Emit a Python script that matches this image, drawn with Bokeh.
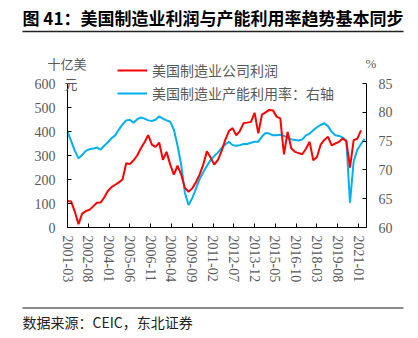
from bokeh.plotting import figure
from bokeh.models import (Range1d, LinearAxis, FixedTicker, Label, Legend,
                          LegendItem)
from bokeh.embed import file_html
from bokeh.resources import INLINE

# ---------------- data (quarterly, starting 2001-03) ----------------
x_tick_labels = ["2001-03", "2002-08", "2004-01", "2005-06", "2006-11", "2008-04",
                 "2009-09", "2011-02", "2012-07", "2013-12", "2015-05", "2016-10",
                 "2018-03", "2019-08", "2021-01"]

# US manufacturing corporate profits, billion USD (left axis)
profits = [110, 108, 66, 14, 58, 68, 74, 88, 103, 104,
           125, 152, 168, 178, 188, 200, 268, 264, 280, 300,
           330, 355, 385, 345, 336, 354, 282, 315, 262, 220,
           258, 220, 165, 149, 163, 188, 220, 262, 318, 292,
           262, 282, 318, 365, 402, 414, 384, 403, 435, 437,
           440, 478, 392, 470, 480, 490, 488, 462, 455, 305,
           398, 330, 315, 310, 305, 328, 357, 280, 294, 345,
           365, 378, 342, 350, 357, 371, 360, 250, 364, 370,
           405]

# US manufacturing capacity utilization, % (right axis)
capacity = [76.6, 75.0, 73.3, 72.0, 72.6, 73.3, 73.6, 73.7, 73.9, 73.5,
            74.2, 74.8, 75.5, 76.0, 77.0, 77.9, 78.6, 78.7, 78.2, 78.8,
            79.1, 78.9, 78.6, 78.5, 78.7, 79.3, 78.9, 78.6, 78.35, 77.0,
            74.2, 70.8, 66.0, 63.9, 65.1, 66.7, 68.4, 69.6, 70.7, 71.7,
            72.4, 73.0, 73.8, 74.4, 74.9, 74.3, 74.2, 74.3, 74.5, 74.5,
            74.7, 74.9, 74.9, 75.8, 76.4, 76.3, 76.0, 76.0, 76.1, 75.9,
            75.6, 75.3, 75.2, 75.1, 75.3, 76.0, 76.3, 76.9, 77.4, 77.8,
            78.1, 77.6, 76.6, 76.0, 75.9, 75.6, 75.1, 64.3, 71.5, 73.5,
            74.5, 75.4]

left_ticks = [0, 100, 200, 300, 400, 500, 600]
right_ticks = [60, 65, 70, 75, 80, 85]

# months since 2001-03
x_profits = [3 * i for i in range(len(profits))]
x_capacity = [3 * i for i in range(len(capacity))]
tick_months = [17 * i for i in range(len(x_tick_labels))]

# ---------------- layout ----------------
W, H = 418, 338
L, R, T, B = 67, 366, 83, 227          # plot area in canvas pixels
X_END = 244.5                           # months shown across the plot area
GRAY = "#595959"
CJK = "Noto Sans CJK SC"
SERIF = "Liberation Serif"

# the frame fills the canvas; axes are pinned at the plot-area edges
pxm = (R - L) / X_END
xr = Range1d(-L / pxm, (W - L) / pxm)
pyl = (B - T) / 600.0
yr_left = Range1d(-(H - B) / pyl, B / pyl)
pyr = (B - T) / 25.0
yr_right = Range1d(60 - (H - B) / pyr, 60 + B / pyr)

def cx(X):  # canvas pixel -> x data
    return (X - L) / pxm

def cy(Y):  # canvas pixel -> left-axis data
    return (B - Y) / pyl

p = figure(width=W, height=H, output_backend="svg", toolbar_location=None,
           x_range=xr, y_range=yr_left,
           min_border_left=0, min_border_right=0, min_border_top=0, min_border_bottom=0)
p.extra_y_ranges = {"cu": yr_right}
p.outline_line_color = None
p.xgrid.visible = False
p.ygrid.visible = False
p.background_fill_color = "white"
p.border_fill_color = "white"

def style_axis(ax):
    ax.axis_line_color = "black"
    ax.axis_line_width = 1
    ax.major_tick_line_color = "black"
    ax.major_tick_in = 4
    ax.major_tick_out = 0
    ax.minor_tick_line_color = None
    ax.major_label_text_font = SERIF
    ax.major_label_text_font_size = "14px"
    ax.major_label_text_color = GRAY

yl = p.yaxis[0]
yl.ticker = FixedTicker(ticks=left_ticks)
style_axis(yl)
yl.fixed_location = 0
yl.bounds = (0, 600)
yl.major_label_standoff = 12

xb = p.xaxis[0]
xb.ticker = FixedTicker(ticks=tick_months)
xb.major_label_overrides = {m: s for m, s in zip(tick_months, x_tick_labels)}
style_axis(xb)
xb.fixed_location = 0
xb.bounds = (0, X_END)
xb.major_label_orientation = "vertical"
xb.major_label_standoff = 8

yr = LinearAxis(y_range_name="cu", ticker=FixedTicker(ticks=right_ticks))
style_axis(yr)
yr.fixed_location = X_END
yr.bounds = (60, 85)
yr.major_label_standoff = 12
p.add_layout(yr, "right")

r_blue = p.line(x_capacity, capacity, color="#00B0F0", line_width=2, y_range_name="cu")
r_red = p.line(x_profits, profits, color="#FF0000", line_width=2)

# legend: location gives its bottom-left corner, measured from the canvas bottom
legend = Legend(items=[LegendItem(label="美国制造业公司利润", renderers=[r_red]),
                       LegendItem(label="美国制造业产能利用率：右轴", renderers=[r_blue])],
                location=(117, H - 103), orientation="vertical",
                padding=0, margin=0, spacing=3,
                glyph_width=30, glyph_height=20, label_height=20, label_standoff=5,
                border_line_color=None, background_fill_alpha=0,
                label_text_font=CJK, label_text_font_size="14px",
                label_text_color=GRAY)
p.add_layout(legend)

def lab(text, X, Y, size, color, font=CJK, style="normal", align="left"):
    p.add_layout(Label(x=X, y=H - Y, x_units="screen", y_units="screen",
                       text=text, text_font=font, text_font_size=size,
                       text_color=color, text_font_style=style,
                       text_align=align, text_baseline="middle"))

# decorative rules under the title and above the source note
p.segment(x0=[cx(22)], y0=[cy(31)], x1=[cx(403)], y1=[cy(31)],
          line_color="#222222", line_width=1.3)
p.segment(x0=[cx(22)], y0=[cy(307.5)], x1=[cx(403)], y1=[cy(307.5)],
          line_color="#8c8c8c", line_width=2)

lab("图 41：美国制造业利润与产能利用率趋势基本同步", 22, 17, "17px", "black", style="bold")
lab("十亿美", 47, 63, "13px", GRAY)
lab("元", 64, 83, "13px", GRAY)
lab("%", 365, 63, "13px", GRAY, font=SERIF)
lab("数据来源：CEIC，东北证券", 22, 321, "14px", "#222222")

open("out.html", "w").write(file_html(p, INLINE))
